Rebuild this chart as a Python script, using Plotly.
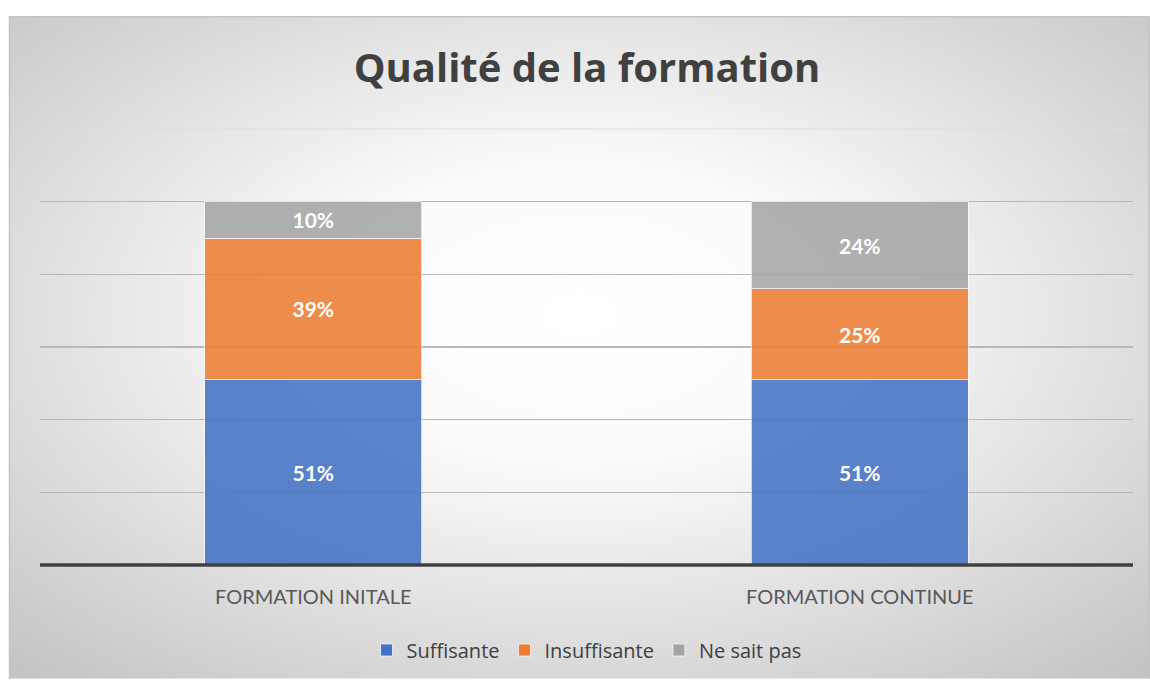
import plotly.graph_objects as go
import base64

categories = ["FORMATION INITALE", "FORMATION CONTINUE"]
suffisante = [51, 51]
insuffisante = [39, 25]
ne_sait_pas = [10, 24]
series_names = ["Suffisante", "Insuffisante", "Ne sait pas"]
colors = ["#4472C4", "#ED7D31", "#A5A5A5"]

W, H = 1150, 680
ml, mr, mt, mb = 40, 17, 129, 114
pw, ph = W - ml - mr, H - mt - mb

def px2x(px):
    return (px - ml) / pw

def py2y(py):
    return (H - mb - py) / ph

svg = """<svg xmlns='http://www.w3.org/2000/svg' width='1141' height='664' viewBox='0 0 1141 664' preserveAspectRatio='none'>
<defs><radialGradient id='g' cx='0.5' cy='0.45' r='0.75' gradientUnits='objectBoundingBox'>
<stop offset='0' stop-color='#ffffff'/><stop offset='0.3' stop-color='#fbfbfb'/><stop offset='1' stop-color='#c2c2c2'/></radialGradient></defs>
<rect x='0' y='0' width='1141' height='664' fill='url(#g)'/></svg>"""
src = "data:image/svg+xml;base64," + base64.b64encode(svg.encode()).decode()

fig = go.Figure()
for name, vals, col in zip(series_names, [suffisante, insuffisante, ne_sait_pas], colors):
    fig.add_trace(go.Bar(
        x=categories, y=vals, name=name,
        marker=dict(color=col, opacity=0.87, line=dict(color="rgba(255,255,255,0.7)", width=1)),
        text=[f"{v}%" for v in vals], textposition="inside", insidetextanchor="middle",
        textfont=dict(family="Lato", size=21, color="white", weight="bold"),
        constraintext="none", hoverinfo="skip",
    ))

fig.add_layout_image(dict(
    source=src, xref="paper", yref="paper",
    x=px2x(9), y=py2y(16), sizex=px2x(1150) - px2x(9), sizey=py2y(16) - py2y(680),
    xanchor="left", yanchor="top", sizing="stretch", layer="below",
))
# frame (left, top, right edges)
fig.add_shape(type="path", xref="paper", yref="paper",
              path=f"M {px2x(9.5)} {py2y(680)} L {px2x(9.5)} {py2y(16.5)} L {px2x(1149)} {py2y(16.5)} L {px2x(1149)} {py2y(680)}",
              line=dict(color="#c4c4c4", width=1.5), layer="below")
# top gridline (120%)
fig.add_shape(type="line", xref="paper", yref="paper", x0=0, x1=1, y0=1, y1=1,
              line=dict(color="#dddddd", width=1.2), layer="below")
# baseline
fig.add_shape(type="line", xref="paper", yref="paper", x0=0, x1=1, y0=0, y1=0,
              line=dict(color="#404040", width=3.5), layer="above")

fig.update_layout(
    width=W, height=H,
    margin=dict(l=ml, r=mr, t=mt, b=mb),
    paper_bgcolor="white", plot_bgcolor="rgba(0,0,0,0)",
    barmode="stack", bargap=0.603,
    title=dict(text="<b>Qualité de la formation</b>", x=587 / W, xanchor="center",
               y=1 - 68 / H, yanchor="middle",
               font=dict(family="Open Sans", size=40, color="#404040")),
    showlegend=True,
    legend=dict(orientation="h", x=0.5, xanchor="center", y=py2y(650), yanchor="middle",
                font=dict(family="Open Sans", size=20, color="#404040"),
                itemwidth=30, traceorder="normal", bgcolor="rgba(0,0,0,0)"),
    xaxis=dict(showgrid=False, showline=False, ticks="", zeroline=False,
               tickfont=dict(family="Lato", size=20, color="#595959"),
               ticklabelstandoff=18),
    yaxis=dict(range=[0, 120], dtick=20, showticklabels=False, showgrid=True,
               gridcolor="#b8b8b8", gridwidth=1.2, zeroline=False, showline=False),
    font=dict(family="Open Sans"),
)

fig.write_html("out.html", config={"displayModeBar": False, "staticPlot": True},
               post_script="document.body.style.margin='0';document.body.style.padding='0';")
